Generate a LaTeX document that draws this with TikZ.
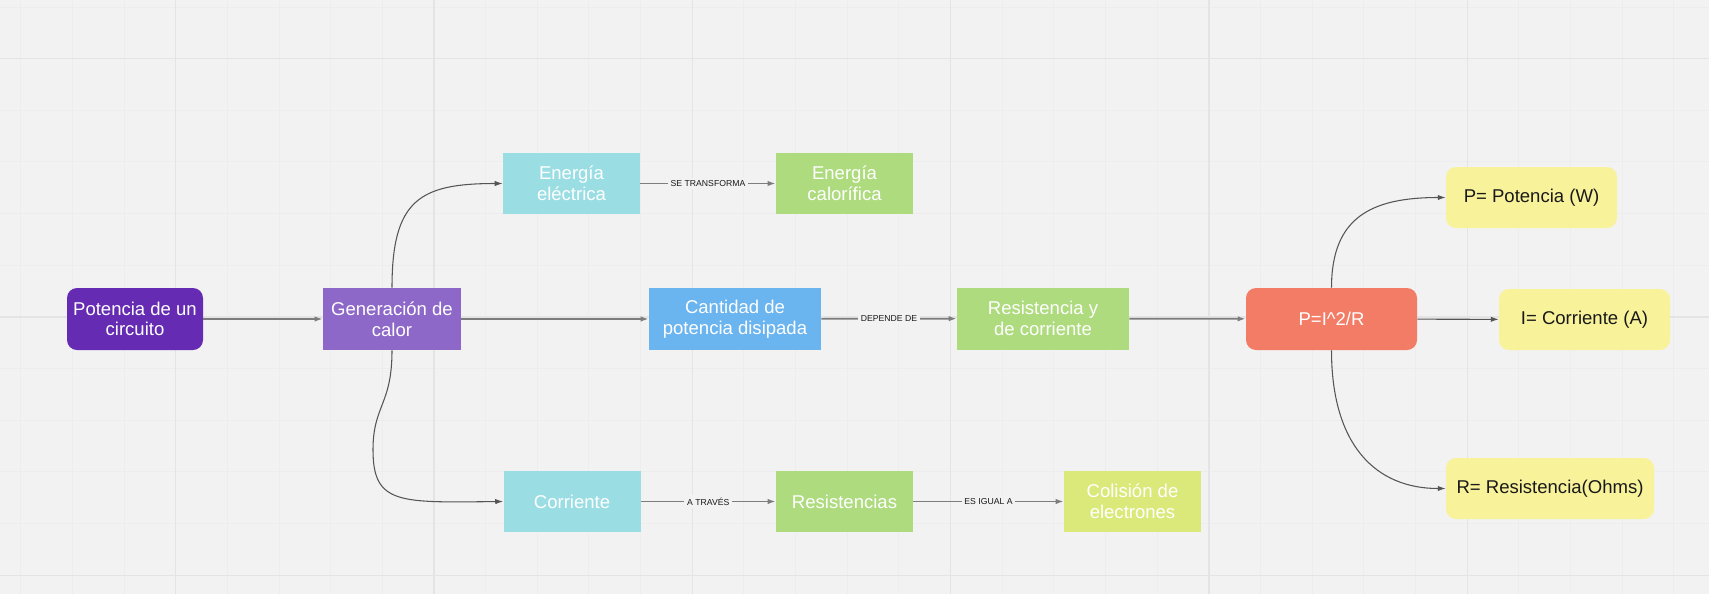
\documentclass[tikz,border=0pt]{standalone}
\usepackage{fontspec}
\setmainfont{Liberation Sans}
\usetikzlibrary{arrows.meta}

\definecolor{canvas}{RGB}{242,242,242}
\definecolor{gridmajor}{RGB}{228,228,228}
\definecolor{gridminor}{RGB}{237,237,237}
\definecolor{purpledark}{RGB}{101,44,179}
\definecolor{purplelight}{RGB}{142,104,201}
\definecolor{cyanbox}{RGB}{154,222,228}
\definecolor{greenbox}{RGB}{174,219,126}
\definecolor{bluebox}{RGB}{106,180,240}
\definecolor{limebox}{RGB}{219,233,122}
\definecolor{salmonbox}{RGB}{242,124,102}
\definecolor{yellowbox}{RGB}{248,242,155}
\definecolor{linkdark}{RGB}{85,85,85}
\definecolor{linkgray}{RGB}{125,125,125}
\definecolor{textdark}{RGB}{25,25,25}

\begin{document}
\begin{tikzpicture}[x=0.75pt,y=0.75pt,yscale=-1,xscale=1,
  box/.style={inner sep=0pt, align=center, text=white, font=\fontsize{13.9}{15.5}\selectfont},
  notebox/.style={box, text=textdark, fill=yellowbox, rounded corners=7.5pt},
  thin link/.style={draw=linkdark, line width=0.8pt, -{Latex[length=6pt,width=4pt]}},
  thick link/.style={draw=linkgray, line width=1.3pt, -{Latex[length=6pt,width=4pt,fill=linkdark]}},
  tag/.style={fill=canvas, inner sep=2pt, text=textdark, font=\fontsize{6.5}{7}\selectfont}]

%Shape: Canvas
\useasboundingbox (0,0) rectangle (1709,594);
\fill [canvas] (0,0) rectangle (1709,594);
%Grid
\foreach \i in {0,...,33} {\draw [gridminor,line width=0.75pt] ({20.7+51.66*\i},0) -- ++(0,594);}
\foreach \i in {0,...,11} {\draw [gridminor,line width=0.75pt] (0,{7+51.66*\i}) -- ++(1709,0);}
\foreach \i in {0,...,5} {\draw [gridmajor,line width=1pt] ({175.7+258.3*\i},0) -- ++(0,594);}
\foreach \i in {0,...,2} {\draw [gridmajor,line width=1pt] (0,{58.7+258.3*\i}) -- ++(1709,0);}

%Shape: Rounded Rect
\node [box, fill=purpledark, rounded corners=7.5pt, minimum width=102pt, minimum height=46.5pt] (pot) at (135,319) {Potencia de un\\circuito};
%Shape: Rectangle
\node [box, fill=purplelight, minimum width=103.5pt, minimum height=46.5pt] (gen) at (392,319) {Generación de\\calor};
%Shape: Rectangle
\node [box, fill=cyanbox, minimum width=102.75pt, minimum height=45.75pt] (elec) at (571.5,183.5) {Energía\\eléctrica};
%Shape: Rectangle
\node [box, fill=greenbox, minimum width=102.75pt, minimum height=45.75pt] (calo) at (844.5,183.5) {Energía\\calorífica};
%Shape: Rectangle
\node [box, fill=bluebox, minimum width=129pt, minimum height=46.5pt] (cant) at (735,319) {Cantidad de\\potencia disipada};
%Shape: Rectangle
\node [box, fill=greenbox, minimum width=129pt, minimum height=46.5pt] (resco) at (1043,318.5) {Resistencia y\\de corriente};
%Shape: Rectangle
\node [box, fill=cyanbox, minimum width=102.75pt, minimum height=45.75pt] (corr) at (572,501.5) {Corriente};
%Shape: Rectangle
\node [box, fill=greenbox, minimum width=102.75pt, minimum height=45.75pt] (resis) at (844.5,501.5) {Resistencias};
%Shape: Rectangle
\node [box, fill=limebox, minimum width=102.75pt, minimum height=45.75pt] (coli) at (1132.5,501.5) {Colisión de\\electrones};
%Shape: Rounded Rect
\node [box, fill=salmonbox, rounded corners=7.5pt, minimum width=128.25pt, minimum height=46.5pt] (form) at (1331.5,319) {P=I\textasciicircum2/R};
%Shape: Rounded Rect
\node [notebox, minimum width=128.25pt, minimum height=45.75pt] (pot w) at (1531.5,197.5) {P= Potencia (W)};
%Shape: Rounded Rect
\node [notebox, minimum width=128.25pt, minimum height=45.75pt] (cor a) at (1584.5,319.5) {I= Corriente (A)};
%Shape: Rounded Rect
\node [notebox, minimum width=156pt, minimum height=45.75pt] (res o) at (1550,488.5) {R= Resistencia(Ohms)};

%Straight Lines
\draw [thick link] (pot) -- (gen);
\draw [thick link] (gen) -- (cant);
\draw [thick link] (resco) -- (form);
\draw [thin link] (form) -- (cor a);
%Straight Lines with labels
\draw [thick link] (elec) -- node [tag] {SE TRANSFORMA} (calo);
\draw [thick link] (cant) -- node [tag] {DEPENDE DE} (resco);
\draw [thick link] (corr) -- node [tag] {A TRAVÉS} (resis);
\draw [thick link] (resis) -- node [tag] {ES IGUAL A} (coli);

%Curve Lines
\draw [thin link] (gen.north) .. controls +(0,-88) and +(-83,0) .. (elec.west);
\coordinate (sbend) at (373,450);
\draw [thin link] (gen.south) .. controls +(0,55) and +(0,-45) .. (sbend) .. controls +(0,55) and +(-103,1) .. (corr.west);
\draw [thin link] (form.north) .. controls +(0,-70) and +(-75,0) .. (pot w.west);
\draw [thin link] (form.south) .. controls +(0,95) and +(-70,0) .. (res o.west);

\end{tikzpicture}
\end{document}
